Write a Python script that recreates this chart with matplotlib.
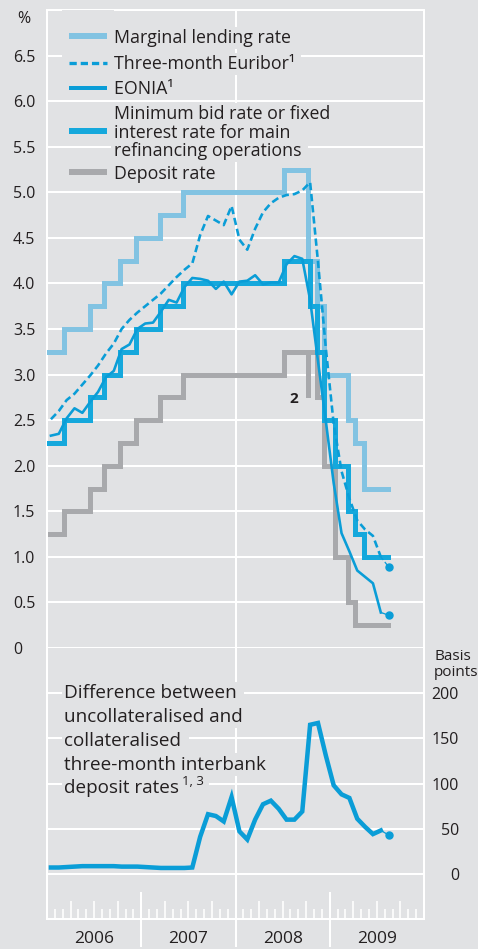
import numpy as np
import pandas as pd
import matplotlib
matplotlib.use('Agg')
import matplotlib.pyplot as plt
from matplotlib.lines import Line2D
from matplotlib.patches import Rectangle

plt.rcParams['font.family'] = ['Open Sans', 'DejaVu Sans']

# ---------------- data ----------------
# ECB key rates: change dates and new level (%); last entry = end of data
mlr_dates = ['2006-01-01', '2006-03-08', '2006-06-15', '2006-08-09', '2006-10-11', '2006-12-13',
             '2007-03-14', '2007-06-13', '2008-07-09', '2008-10-08', '2008-10-09', '2008-11-12',
             '2008-12-10', '2009-01-21', '2009-03-11', '2009-04-08', '2009-05-13', '2009-08-15']
mlr_values = [3.25, 3.50, 3.75, 4.00, 4.25, 4.50, 4.75, 5.00, 5.25, 4.75, 4.25, 3.75,
              3.00, 3.00, 2.50, 2.25, 1.75, 1.75]

mro_dates = ['2006-01-01', '2006-03-08', '2006-06-15', '2006-08-09', '2006-10-11', '2006-12-13',
             '2007-03-14', '2007-06-13', '2008-07-09', '2008-10-15', '2008-11-12', '2008-12-10',
             '2009-01-21', '2009-03-11', '2009-04-08', '2009-05-13', '2009-08-15']
mro_values = [2.25, 2.50, 2.75, 3.00, 3.25, 3.50, 3.75, 4.00, 4.25, 3.75, 3.25, 2.50,
              2.00, 1.50, 1.25, 1.00, 1.00]

dep_dates = ['2006-01-01', '2006-03-08', '2006-06-15', '2006-08-09', '2006-10-11', '2006-12-13',
             '2007-03-14', '2007-06-13', '2008-07-09', '2008-10-08', '2008-10-09', '2008-11-12',
             '2008-12-10', '2009-01-21', '2009-03-11', '2009-04-08', '2009-08-15']
dep_values = [1.25, 1.50, 1.75, 2.00, 2.25, 2.50, 2.75, 3.00, 3.25, 2.75, 3.25, 2.75,
              2.00, 1.00, 0.50, 0.25, 0.25]

# monthly averages, Jan 2006 - Aug 2009
months = pd.period_range('2006-01', '2009-08', freq='M')
euribor = [2.51, 2.60, 2.72, 2.79, 2.89, 2.99, 3.10, 3.23, 3.34, 3.50, 3.60, 3.68,
           3.75, 3.82, 3.89, 3.98, 4.07, 4.15, 4.22, 4.53, 4.74, 4.69, 4.64, 4.85,
           4.48, 4.37, 4.60, 4.78, 4.88, 4.94, 4.97, 4.98, 5.02, 5.11, 4.24, 3.29,
           2.46, 1.94, 1.64, 1.40, 1.30, 1.23, 1.00, 0.89]
eonia = [2.33, 2.35, 2.52, 2.63, 2.58, 2.70, 2.81, 2.97, 3.04, 3.28, 3.33, 3.50,
         3.56, 3.57, 3.69, 3.82, 3.79, 3.96, 4.06, 4.05, 4.03, 3.94, 4.02, 3.88,
         4.02, 4.03, 4.09, 3.99, 4.01, 4.01, 4.21, 4.30, 4.27, 3.82, 3.15, 2.49,
         1.81, 1.26, 1.06, 0.85, 0.78, 0.71, 0.39, 0.36]
spread_bp = [7, 7, 7.5, 8, 8.5, 8.5, 8.5, 8.5, 8.5, 8, 8, 8,
             7.5, 7, 6.5, 6.5, 6.5, 6.5, 7, 41, 66, 64, 58, 85,
             47, 38, 60, 77, 81, 72, 60, 60, 69, 165, 167, 131,
             98, 88, 84, 61, 52, 44, 48, 43]

years = [2006, 2007, 2008, 2009]
upper_ticks = [0, 0.5, 1.0, 1.5, 2.0, 2.5, 3.0, 3.5, 4.0, 4.5, 5.0, 5.5, 6.0, 6.5]
lower_ticks = [0, 50, 100, 150, 200]

legend_labels = ['Marginal lending rate', 'Three-month Euribor\u00b9', 'EONIA\u00b9',
                 'Minimum bid rate or fixed\ninterest rate for main\nrefinancing operations',
                 'Deposit rate']
note_lines = ['Difference between', 'uncollateralised and', 'collateralised',
              'three-month interbank', 'deposit rates']
note_sup = '1, 3'


def dec_year(ds):
    out = []
    for s in ds:
        d = pd.Timestamp(s)
        n = 366 if d.is_leap_year else 365
        out.append(d.year + (d.dayofyear - 1) / n)
    return np.array(out)


xm = np.array([p.year + (p.month - 0.5) / 12 for p in months])

# ---------------- styling ----------------
BG = '#e1e2e4'
C_MLR = '#82c3e2'
C_BLUE = '#0a9dd7'
C_MRO = '#15a8dc'
C_DEP = '#a8a9ac'
TXT = '#231f20'
WH = 'white'
PX = 72 / 100  # points per pixel

W, H = 478, 949
fig = plt.figure(figsize=(W / 100, H / 100), dpi=100, facecolor=BG)
L, R, T, MID, B = 47, 424, 10, 648, 919
ax1 = fig.add_axes([L / W, 1 - MID / H, (R - L) / W, (MID - T) / H])
ax2 = fig.add_axes([L / W, 1 - B / H, (R - L) / W, (B - MID) / H])

for ax in (ax1, ax2):
    ax.set_facecolor(BG)
    ax.set_xlim(2006, 2010)
    for s in ax.spines.values():
        s.set_color(WH)
        s.set_linewidth(2 * PX)
    ax.axvline(2008, color=WH, lw=2 * PX, zorder=0.5)

# ----- upper panel -----
ax1.spines['bottom'].set_visible(False)
ax1.set_ylim(0, 7)
ax1.set_yticks(upper_ticks)
ax1.set_yticklabels(['0' if v == 0 else f'{v:.1f}' for v in upper_ticks])
ax1.yaxis.grid(True, color=WH, lw=2 * PX)
ax1.set_axisbelow(True)
ax1.tick_params(axis='y', length=0, pad=34 * PX, labelsize=11.5, labelcolor=TXT)
for lbl in ax1.get_yticklabels():
    lbl.set_horizontalalignment('left')
ax1.tick_params(axis='x', bottom=False, labelbottom=False)

ax1.step(dec_year(dep_dates), dep_values, where='post', color=C_DEP, lw=5 * PX,
         solid_joinstyle='miter', zorder=2)
ax1.step(dec_year(mlr_dates), mlr_values, where='post', color=C_MLR, lw=5 * PX,
         solid_joinstyle='miter', zorder=3)
ax1.step(dec_year(mro_dates), mro_values, where='post', color=C_MRO, lw=5 * PX,
         solid_joinstyle='miter', zorder=4)

eon = np.array(eonia)
eur = np.array(euribor)
ax1.plot(xm[:-1], eon[:-1], color=C_BLUE, lw=2.6 * PX, zorder=5)
ax1.plot(xm[-2:], eon[-2:], color=C_BLUE, lw=1.3 * PX, zorder=5)
ax1.plot(xm[-1:], eon[-1:], 'o', color=C_BLUE, ms=7 * PX, zorder=6)
ax1.plot(xm[:-1], eur[:-1], color=C_BLUE, lw=2.6 * PX, dashes=(2.8, 1.5), zorder=6)
ax1.plot(xm[-2:], eur[-2:], color=C_BLUE, lw=1.3 * PX, dashes=(3, 2), zorder=6)
ax1.plot(xm[-1:], eur[-1:], 'o', color=C_BLUE, ms=7 * PX, zorder=6)

ax1.text(2008.62, 2.73, '2', ha='center', va='center', fontsize=11, fontweight='bold',
         color=TXT, zorder=7)

# ----- lower panel -----
ax2.spines['top'].set_visible(False)
ax2.set_ylim(-50, 250)
ax2.yaxis.tick_right()
ax2.set_yticks(lower_ticks)
ax2.set_yticklabels([str(v) for v in lower_ticks])
ax2.yaxis.grid(True, color=WH, lw=2 * PX)
ax2.set_axisbelow(True)
ax2.tick_params(axis='y', length=0, pad=35 * PX, labelsize=11.5, labelcolor=TXT)
for lbl in ax2.get_yticklabels():
    lbl.set_horizontalalignment('right')

month_pos = [y + m / 12 for y in years for m in range(12)] + [2010]
quarter_pos = [p for i, p in enumerate(month_pos) if i % 3 == 0 and i % 12 != 0]
minor_pos = [p for i, p in enumerate(month_pos) if i % 3 != 0]
ax2.set_xticks(quarter_pos)
ax2.set_xticks(minor_pos, minor=True)
ax2.tick_params(axis='x', which='major', direction='in', length=18 * PX, width=1.6 * PX,
                color=WH, labelbottom=False)
ax2.tick_params(axis='x', which='minor', direction='in', length=10 * PX, width=1.6 * PX,
                color=WH)
xtr = ax2.get_xaxis_transform()
for y in years[1:]:
    ax2.plot([y, y], [26 / 271, -27 / 271], transform=xtr, color=WH, lw=2 * PX,
             clip_on=False, zorder=1)
for y in years:
    ax2.text(y + 0.5, -20 / 271, str(y), transform=xtr, ha='center', va='center',
             fontsize=12.5, color=TXT)

sp = np.array(spread_bp)
ax2.plot(xm[:-1], sp[:-1], color=C_BLUE, lw=4.5 * PX, solid_joinstyle='miter', zorder=5)
ax2.plot(xm[-2:], sp[-2:], color=C_BLUE, lw=1.3 * PX, zorder=5)
ax2.plot(xm[-1:], sp[-1:], 'o', color=C_BLUE, ms=7 * PX, zorder=6)

# ----- texts -----
fig.text(24 / W, 1 - 19 / H, '%', ha='center', va='center', fontsize=11.5, color=TXT)
fig.text(434 / W, 1 - 657 / H, 'Basis', ha='left', va='center', fontsize=11, color=TXT)
fig.text(434 / W, 1 - 672 / H, 'points', ha='left', va='center', fontsize=11, color=TXT)

box = dict(boxstyle='square,pad=0.12', facecolor=BG, edgecolor='none')

# legend
key_x = (69 / W, 107 / W)
key_styles = [dict(color=C_MLR, lw=6 * PX), dict(color=C_BLUE, lw=3.3 * PX, dashes=(2.2, 1.2)),
              dict(color=C_BLUE, lw=4 * PX), dict(color=C_MRO, lw=6 * PX),
              dict(color=C_DEP, lw=6 * PX)]
key_y = [36, 63, 88, 131, 172]
base_y = [[43.3], [69.3], [94.3], [119.3, 137.7, 156], [179]]
fig.patches.append(Rectangle((62 / W, 1 - 78 / H), 52 / W, 68 / H, transform=fig.transFigure,
                             facecolor=BG, edgecolor='none', zorder=1))
for lab, ks, ky, bys in zip(legend_labels, key_styles, key_y, base_y):
    fig.add_artist(Line2D(key_x, [1 - ky / H] * 2, transform=fig.transFigure,
                          solid_capstyle='butt', dash_capstyle='butt', zorder=3, **ks))
    for line, by in zip(lab.split('\n'), bys):
        fig.text(113.5 / W, 1 - by / H, line + ' ', ha='left', va='baseline', fontsize=12.8,
                 color=TXT, bbox=box, zorder=2)

# lower note
note_base = [698.3, 721.7, 746, 769.5, 793.3]
last = None
for i, (line, by) in enumerate(zip(note_lines, note_base)):
    txt = line if i == len(note_lines) - 1 else line + ' '
    last = fig.text(64.5 / W, 1 - by / H, txt, ha='left', va='baseline', fontsize=13.6,
                    color=TXT, bbox=box, zorder=2)
fig.canvas.draw()
r = fig.canvas.get_renderer()
ext = last.get_window_extent(r)
sx = ext.x1 / W + 3 / W
fig.text(sx, 1 - 785 / H, note_sup + ' ', ha='left', va='baseline', fontsize=9.5, color=TXT,
         bbox=box, zorder=2)

fig.savefig('out.png', dpi=100, facecolor=BG)
